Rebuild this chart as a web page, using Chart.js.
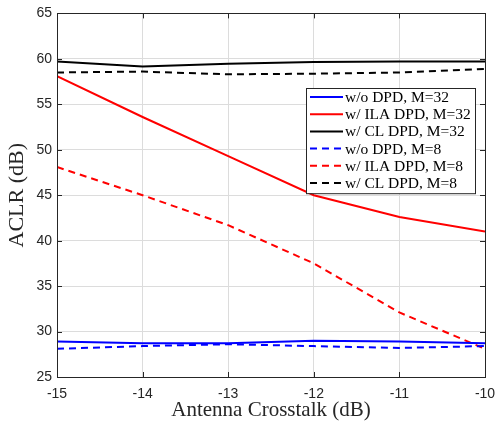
<!DOCTYPE html>
<html>
<head>
<meta charset="utf-8">
<script src="https://cdn.jsdelivr.net/npm/chart.js@4/dist/chart.umd.min.js"></script>
<style>
  html, body { margin: 0; padding: 0; background: #fff; }
  #wrap { width: 497px; height: 424px; }
</style>
</head>
<body>
<div id="wrap"><canvas id="chart1" width="497" height="424"></canvas></div>
<script>
// x axis: antenna crosstalk (dB)
const crosstalk = [-15, -14, -13, -12, -11, -10];

// ACLR (dB)
const noDpdM32 = [28.9, 28.7, 28.7, 29.0, 28.9, 28.7];
const ilaM32 = [58.1, 53.6, 49.3, 45.0, 42.6, 41.0];
const clM32 = [59.7, 59.15, 59.45, 59.65, 59.7, 59.7];
const noDpdM8 = [28.1, 28.4, 28.6, 28.4, 28.2, 28.4];
const ilaM8 = [48.1, 45.0, 41.7, 37.5, 32.1, 28.1];
const clM8 = [58.5, 58.6, 58.3, 58.37, 58.5, 58.9];

const xTicks = [-15, -14, -13, -12, -11, -10];
const yTicks = [25, 30, 35, 40, 45, 50, 55, 60, 65];

const seriesLabels = [
  "w/o DPD, M=32",
  "w/ ILA DPD, M=32",
  "w/ CL DPD, M=32",
  "w/o DPD, M=8",
  "w/ ILA DPD, M=8",
  "w/ CL DPD, M=8",
];
const seriesData = [noDpdM32, ilaM32, clM32, noDpdM8, ilaM8, clM8];
const seriesColors = ["#0000ff", "#ff0000", "#000000", "#0000ff", "#ff0000", "#000000"];
const DASH = [7, 5];
const SERIF = "'Liberation Serif', 'DejaVu Serif', serif";
const SANS = "'Liberation Sans', Arial, sans-serif";

function makeDataset(i) {
  return {
    label: seriesLabels[i],
    data: crosstalk.map((x, k) => ({ x: x, y: seriesData[i][k] })),
    borderColor: seriesColors[i],
    backgroundColor: seriesColors[i],
    borderWidth: 2,
    borderDash: i >= 3 ? DASH : [],
    pointRadius: 0,
    tension: 0,
  };
}

// box around the plot + inward ticks, matlab style
const axesBox = {
  id: "axesBox",
  afterDatasetsDraw(chart) {
    const { ctx, chartArea: a, scales } = chart;
    ctx.save();
    ctx.strokeStyle = "#262626";
    ctx.lineWidth = 1;
    ctx.setLineDash([]);
    ctx.beginPath();
    xTicks.forEach((v) => {
      const px = Math.round(scales.x.getPixelForValue(v)) + 0.5;
      ctx.moveTo(px, a.bottom); ctx.lineTo(px, a.bottom - 5);
      ctx.moveTo(px, a.top); ctx.lineTo(px, a.top + 5);
    });
    yTicks.forEach((v) => {
      const py = Math.round(scales.y.getPixelForValue(v)) + 0.5;
      ctx.moveTo(a.left, py); ctx.lineTo(a.left + 5, py);
      ctx.moveTo(a.right, py); ctx.lineTo(a.right - 5, py);
    });
    ctx.stroke();
    ctx.strokeRect(Math.round(a.left) + 0.5, Math.round(a.top) + 0.5,
      Math.round(a.right - a.left), Math.round(a.bottom - a.top));
    ctx.restore();
  },
};

// legend box inside the axes, upper right
const boxLegend = {
  id: "boxLegend",
  afterDraw(chart) {
    const { ctx } = chart;
    const left = 306, top = 88, w = 169, rowH = 17.2;
    ctx.save();
    ctx.fillStyle = "#fff";
    ctx.fillRect(left, top, w, rowH * 6 + 2);
    ctx.strokeStyle = "#262626";
    ctx.lineWidth = 1;
    ctx.setLineDash([]);
    ctx.strokeRect(left + 0.5, top + 0.5, w, rowH * 6 + 2);
    ctx.font = "15.5px " + SERIF;
    ctx.textBaseline = "middle";
    chart.data.datasets.forEach((ds, i) => {
      const y = top + 9 + i * rowH;
      ctx.strokeStyle = ds.borderColor;
      ctx.lineWidth = 2;
      ctx.setLineDash(ds.borderDash);
      ctx.beginPath();
      ctx.moveTo(left + 4, y);
      ctx.lineTo(left + 37, y);
      ctx.stroke();
      ctx.fillStyle = "#000";
      ctx.fillText(ds.label, left + 39, y + 1);
    });
    ctx.restore();
  },
};

const ctx = document.getElementById("chart1").getContext("2d");
const myChart = new Chart(ctx, {
  type: "line",
  data: { datasets: seriesData.map((_, i) => makeDataset(i)) },
  options: {
    responsive: false,
    animation: false,
    layout: { padding: { top: 13, right: 12, left: 0, bottom: 0 } },
    plugins: { legend: { display: false }, tooltip: { enabled: false } },
    scales: {
      x: {
        type: "linear",
        min: -15,
        max: -10,
        afterBuildTicks(scale) { scale.ticks = xTicks.map((v) => ({ value: v })); },
        afterFit(scale) { scale.height = 47; },
        grid: { color: "#dcdcdc", drawTicks: true, tickLength: 8, tickColor: "rgba(0,0,0,0)", lineWidth: 1 },
        border: { display: false },
        ticks: {
          color: "#262626",
          padding: 1,
          maxRotation: 0,
          font: { family: SANS, size: 14 },
        },
        title: {
          display: true,
          text: "Antenna Crosstalk (dB)",
          color: "#262626",
          padding: { top: 0, bottom: 1 },
          font: { family: SERIF, size: 21 },
        },
      },
      y: {
        min: 25,
        max: 65,
        afterBuildTicks(scale) { scale.ticks = yTicks.map((v) => ({ value: v })); },
        afterFit(scale) { scale.width = 57; },
        grid: { color: "#dcdcdc", drawTicks: false, lineWidth: 1 },
        border: { display: false },
        ticks: {
          color: "#262626",
          padding: 5,
          font: { family: SANS, size: 14 },
        },
        title: {
          display: true,
          text: "ACLR (dB)",
          color: "#262626",
          padding: { top: 4, bottom: 0 },
          font: { family: SERIF, size: 22 },
        },
      },
    },
  },
  plugins: [axesBox, boxLegend],
});
</script>
</body>
</html>
